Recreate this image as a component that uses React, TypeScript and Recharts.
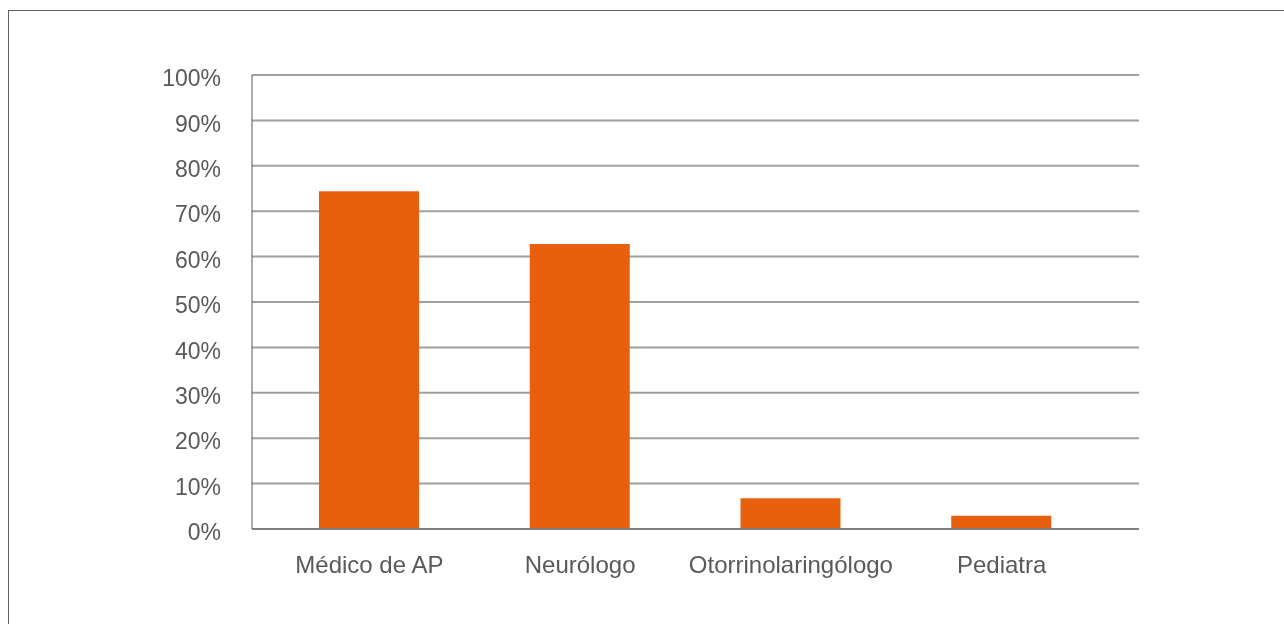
import { BarChart, Bar, XAxis, YAxis, CartesianGrid } from 'recharts'

// specialists consulted (% of respondents)
const categories = ['Médico de AP', 'Neurólogo', 'Otorrinolaringólogo', 'Pediatra']
const percentages = [74.4, 62.8, 6.8, 2.9]
const yTicks = [0, 10, 20, 30, 40, 50, 60, 70, 80, 90, 100]

const ORANGE = '#e8600e'
const TEXT = '#595959'
const FONT = '"Liberation Sans", Arial, sans-serif'

// y labels sit a little below their gridline in the original
function PercentTick({ x, y, payload }: any) {
  return (
    <text x={x} y={y + 3} dy="0.355em" textAnchor="end" fontSize={23} fill={TEXT} fontFamily={FONT}>
      {`${payload.value}%`}
    </text>
  )
}

export default function App() {
  const data = categories.map((name, i) => ({ name, value: percentages[i] }))

  return (
    <div
      style={{
        position: 'fixed',
        left: 8,
        top: 10,
        width: 1400,
        height: 700,
        border: '1px solid #5f5f5f',
        fontFamily: FONT,
      }}
    >
      <BarChart
        width={1275}
        height={612}
        data={data}
        margin={{ top: 64, right: 145, left: 163, bottom: 54 }}
      >
        <CartesianGrid vertical={false} stroke="#a0a0a0" strokeWidth={2} />
        <XAxis
          dataKey="name"
          height={40}
          padding={{ left: 12, right: 32 }}
          tickLine={false}
          tickSize={0}
          tickMargin={27}
          axisLine={{ stroke: '#808080', strokeWidth: 2 }}
          tick={{ fontSize: 24, fill: TEXT, fontFamily: FONT }}
          interval={0}
        />
        <YAxis
          width={80}
          domain={[0, 100]}
          ticks={yTicks}
          tickLine={false}
          tickSize={0}
          tickMargin={31}
          axisLine={{ stroke: '#595959', strokeWidth: 1 }}
          tick={<PercentTick />}
        />
        <Bar dataKey="value" fill={ORANGE} barSize={100} isAnimationActive={false} />
      </BarChart>
    </div>
  )
}
